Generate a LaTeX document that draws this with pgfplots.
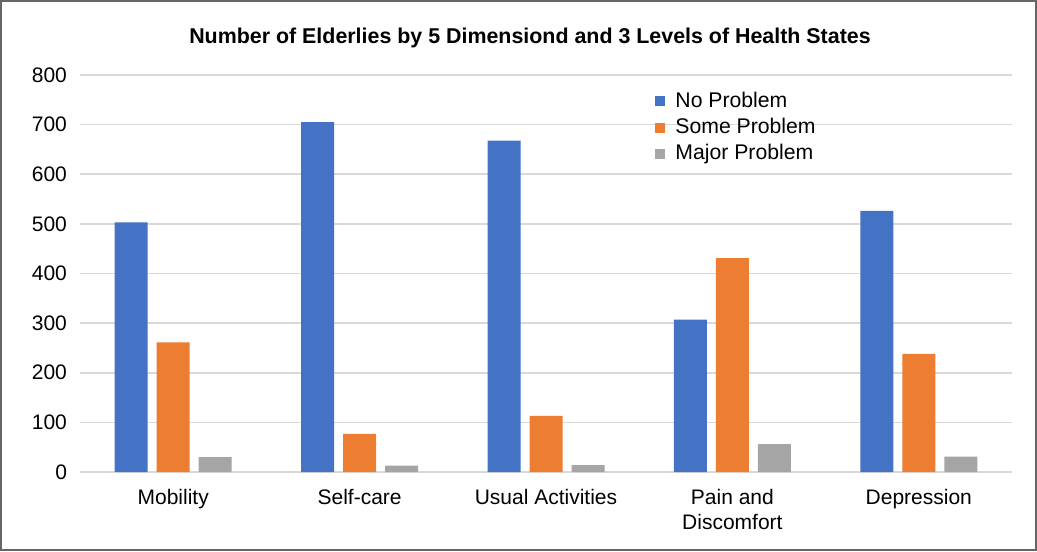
\documentclass[border=0pt]{standalone}
\usepackage{pgfplots}
\pgfplotsset{compat=1.18}
\usepackage{fontspec}
\setmainfont{Liberation Sans}
\definecolor{cblue}{HTML}{4472C4}
\definecolor{corange}{HTML}{ED7D31}
\definecolor{cgray}{HTML}{A5A5A5}
\definecolor{gridc}{HTML}{D9D9D9}
\begin{document}
\begin{tikzpicture}
\begin{axis}[
  at={(0,0)}, anchor=south west,
  scale only axis,
  width=466pt, height=198.5pt,
  ybar=4.5pt, bar width=16.5pt,
  xmin=-0.5, xmax=4.5,
  ymin=0, ymax=800,
  ytick={0,100,...,800},
  xtick=data,
  xticklabels={Mobility,Self-care,Usual Activities,{Pain and\\Discomfort},Depression},
  xticklabel style={align=center, font=\fontsize{10.5}{12.5}\selectfont, yshift=-5pt},
  yticklabel style={font=\fontsize{10.5}{12}\selectfont, xshift=-3pt},
  /pgf/number format/assume math mode=true,
  ymajorgrids, grid style={gridc, line width=0.8pt},
  axis x line*=bottom,
  axis y line*=left,
  y axis line style={draw=none},
  x axis line style={gridc, line width=0.8pt},
  major tick length=0pt,
  tick style={draw=none},
  legend style={draw=none, fill=none, at={(rel axis cs:0.617,0.968)}, anchor=north west,
    font=\fontsize{10.6}{13}\selectfont, row sep=-0.05pt, inner sep=0pt,
    cells={anchor=west}},
  legend image code/.code={\fill[#1] (0pt,-2.5pt) rectangle (5pt,2.5pt); \path (8pt,0pt);},
]
\addplot[fill=cblue, draw=none] coordinates {(0,503) (1,705) (2,668) (3,307) (4,526)};
\addplot[fill=corange, draw=none] coordinates {(0,261) (1,77) (2,113) (3,431) (4,238)};
\addplot[fill=cgray, draw=none] coordinates {(0,30) (1,13) (2,14) (3,56) (4,31)};
\legend{No Problem, Some Problem, Major Problem}
\end{axis}
\node[font=\bfseries\fontsize{10.7}{12}\selectfont] at (225pt,217pt) {Number of Elderlies by 5 Dimensiond and 3 Levels of Health States};
\draw[gray!80!black, line width=0.8pt] (-39.6pt,-39.1pt) rectangle (478.1pt,235.6pt);
\end{tikzpicture}
\end{document}
